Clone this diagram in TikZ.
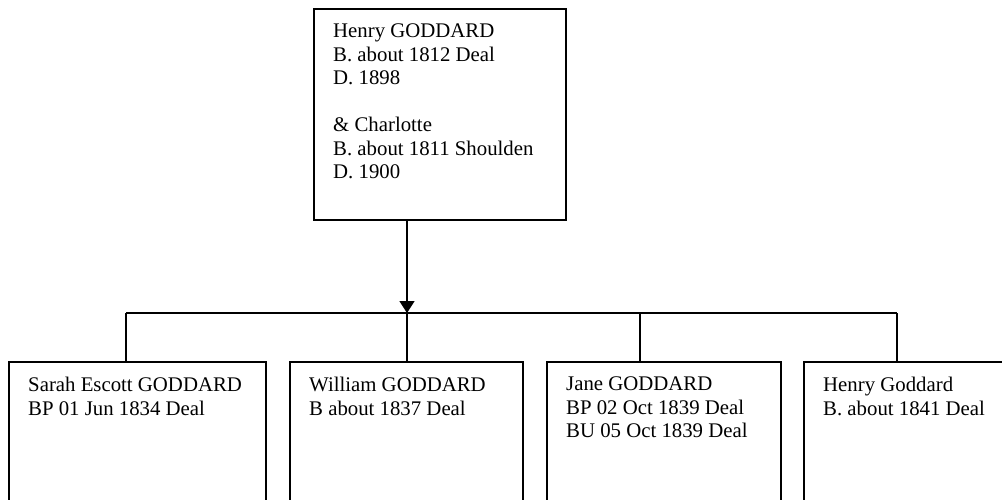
\documentclass[tikz,border=0pt]{standalone}
\usepackage{fontspec}
\setmainfont{Liberation Serif}
\usetikzlibrary{arrows.meta}
\tikzset{
  personbox/.style={draw, line width=1.6pt, anchor=north west, inner sep=0pt, outer sep=0pt},
  persontext/.style={anchor=north west, inner sep=0pt, align=left,
    font=\fontsize{20.8}{23.5}\selectfont},
  branch/.style={line width=1.6pt},
}
\begin{document}
\begin{tikzpicture}[x=1pt,y=-1pt]
    \useasboundingbox (0,0) rectangle (1002,499);
    \clip (0,0) rectangle (1002,499);

    % parents
    \node[personbox, minimum width=252pt, minimum height=211pt] (henry) at (314,9) {};
    \node[persontext] (henrytxt) at (333,24) {Henry GODDARD\\B. about 1812 Deal\\D. 1898\\[23.5pt]%
      \& Charlotte\\B. about 1811 Shoulden\\D. 1900};

    % children
    \node[personbox, minimum width=257pt, minimum height=200pt] (sarah) at (9,362) {};
    \node[persontext] (sarahtxt) at (28,377) {Sarah Escott GODDARD\\BP 01 Jun 1834 Deal};

    \node[personbox, minimum width=233pt, minimum height=200pt] (william) at (290,362) {};
    \node[persontext] (williamtxt) at (309,377) {William GODDARD\\B about 1837 Deal};

    \node[personbox, minimum width=234pt, minimum height=200pt] (jane) at (547,362) {};
    \node[persontext] (janetxt) at (566,377) {Jane GODDARD\\BP 02 Oct 1839 Deal\\BU 05 Oct 1839 Deal};

    \node[personbox, minimum width=234pt, minimum height=200pt] (henryjr) at (804,362) {};
    \node[persontext] (henryjrtxt) at (823,377) {Henry Goddard\\B. about 1841 Deal};

    % connectors
    \coordinate (join) at (407,313);
    \coordinate (barleft) at (126,313);
    \coordinate (barright) at (897,313);
    \coordinate (barjane) at (640,313);
    \draw[branch, -{Triangle[width=15pt,length=12pt]}] (join |- henry.south) -- (join);
    \draw[branch] (barleft) -- (barright);
    \draw[branch] (barleft) -- (barleft |- sarah.north);
    \draw[branch] (join) -- (join |- william.north);
    \draw[branch] (barjane) -- (barjane |- jane.north);
    \draw[branch] (barright) -- (barright |- henryjr.north);
\end{tikzpicture}
\end{document}
